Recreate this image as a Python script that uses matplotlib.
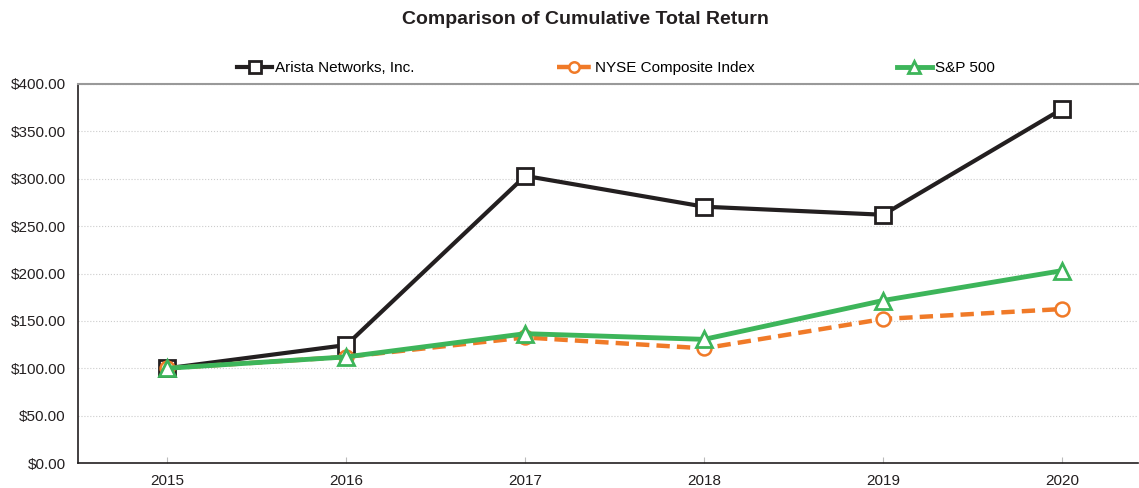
import numpy as np
import matplotlib.pyplot as plt
from matplotlib.ticker import FuncFormatter

# datos
anios = ['2015', '2016', '2017', '2018', '2019', '2020']
arista = [100.0, 124.5, 303.0, 270.5, 262.0, 373.5]
nyse = [100.0, 112.0, 132.5, 121.0, 152.0, 162.5]
sp500 = [100.0, 112.0, 136.5, 130.5, 171.5, 203.0]

plt.rcParams['font.family'] = ['Liberation Sans', 'DejaVu Sans']

fig = plt.figure(figsize=(11.39, 4.88), dpi=100)
ax = fig.add_axes([78/1139, 25/488, (1138-78)/1139, (463-84)/488])

x = np.arange(len(anios))
ax.plot(x, arista, color='#231f20', lw=3, marker='s', ms=11,
        mfc='white', mec='#231f20', mew=2, label='Arista Networks, Inc.', zorder=3)
ax.plot(x, nyse, color='#f07a28', lw=3.2, ls=(0, (3, 1.6)), marker='o', ms=10,
        mfc='white', mec='#f07a28', mew=1.8, label='NYSE Composite Index', zorder=4)
ax.plot(x, sp500, color='#3db55a', lw=3.5, marker='^', ms=11,
        mfc='white', mec='#3db55a', mew=2, label='S&P 500', zorder=5)

ax.set_xlim(-0.5, (1138-167)/179)
ax.set_ylim(0, 400)
ax.set_yticks(np.arange(0, 401, 50))
ax.yaxis.set_major_formatter(FuncFormatter(lambda v, p: '${:,.2f}'.format(v)))
ax.set_xticks(x)
ax.set_xticklabels(anios)
ax.grid(axis='y', color='#cccccc', ls=':', lw=0.8)
ax.set_axisbelow(True)

ax.spines['right'].set_visible(False)
ax.spines['top'].set_color('#999999')
ax.spines['top'].set_linewidth(1.5)
ax.spines['left'].set_color('#231f20')
ax.spines['bottom'].set_color('#231f20')
ax.spines['left'].set_linewidth(1.2)
ax.spines['bottom'].set_linewidth(1.2)
ax.tick_params(axis='y', length=0, labelsize=11, colors='#231f20', pad=9)
ax.tick_params(axis='x', direction='in', length=4, color='#bbbbbb',
               labelsize=11, labelcolor='#231f20', pad=8)

fig.legend(loc='center', bbox_to_anchor=(616/1139, 1 - 68/488), ncol=3,
           frameon=False, fontsize=11, handlelength=2.3, handletextpad=0.2,
           columnspacing=9.3, markerscale=0.75)

fig.suptitle('Comparison of Cumulative Total Return', x=585/1139, y=1 - 20/488,
             va='center', fontsize=14, fontweight='bold', color='#231f20')

plt.savefig('out.png', dpi=100)
